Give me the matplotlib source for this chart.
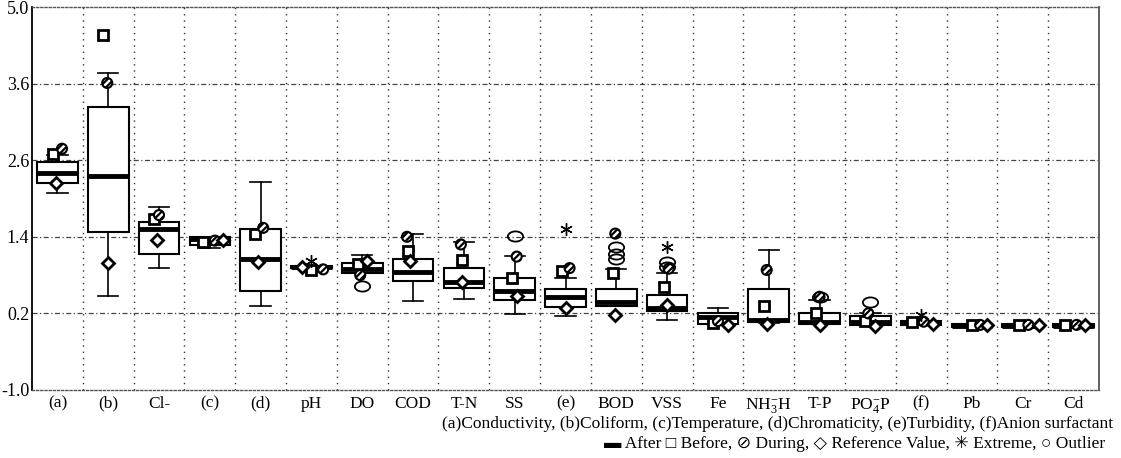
import matplotlib
matplotlib.use("Agg")
import matplotlib.pyplot as plt
import numpy as np
from matplotlib.path import Path
from matplotlib.transforms import Affine2D
from matplotlib.markers import MarkerStyle

plt.rcParams['font.family'] = ['Liberation Serif', 'DejaVu Sans']
plt.rcParams['mathtext.fontset'] = 'custom'
plt.rcParams['mathtext.rm'] = 'Liberation Serif'
plt.rcParams['mathtext.it'] = 'Liberation Serif:italic'
plt.rcParams['mathtext.bf'] = 'Liberation Serif:bold'
plt.rcParams['hatch.linewidth'] = 1.6

# ---------------- data ----------------
categories = ["(a)", "(b)", "Cl-", "(c)", "(d)", "pH", "DO", "COD", "T-N", "SS", "(e)",
              "BOD", "VSS", "Fe", r"NH$_3^{-}$H", "T-P", r"PO$_4^{-}$P", "(f)", "Pb", "Cr", "Cd"]

whislo = [2.09, 0.47, 0.91, 1.22, 0.31, 0.91, 0.84, 0.40, 0.43, 0.19, 0.16,
          0.31, 0.09, 0.04, 0.05, 0.04, 0.02, 0.02, -0.01, -0.01, -0.01]
q1     = [2.24, 1.47, 1.13, 1.27, 0.55, 0.91, 0.84, 0.71, 0.60, 0.41, 0.30,
          0.31, 0.24, 0.04, 0.07, 0.04, 0.02, 0.02, -0.01, -0.01, -0.01]
median = [2.40, 2.35, 1.52, 1.36, 1.05, 0.93, 0.90, 0.85, 0.69, 0.55, 0.46,
          0.38, 0.29, 0.14, 0.09, 0.07, 0.06, 0.05, 0.01, 0.01, 0.01]
q3     = [2.57, 3.43, 1.63, 1.39, 1.52, 0.95, 0.99, 1.06, 0.91, 0.75, 0.58,
          0.59, 0.49, 0.20, 0.59, 0.20, 0.16, 0.08, 0.03, 0.03, 0.03]
whishi = [2.68, 3.97, 1.87, 1.39, 2.26, 0.95, 1.11, 1.45, 1.32, 1.10, 0.75,
          0.89, 0.83, 0.28, 1.19, 0.41, 0.20, 0.08, 0.03, 0.03, 0.03]

before    = [2.70, 4.56, 1.68, 1.32, 1.45, 0.88, 0.97, 1.18, 1.03, 0.76, 0.87,
             0.84, 0.62, 0.05, 0.32, 0.21, 0.08, 0.06, 0.02, 0.02, 0.02]
during    = [2.78, 3.81, 1.74, 1.34, 1.54, 0.89, 0.80, 1.40, 1.28, 1.09, 0.91,
             1.45, 0.90, 0.08, 0.88, 0.46, 0.20, 0.07, 0.02, 0.02, 0.02]
reference = [2.24, 0.99, 1.35, 1.35, 1.01, 0.93, 1.02, 1.02, 0.69, 0.48, 0.28,
             0.18, 0.33, 0.02, 0.04, 0.02, 0.00, 0.04, 0.02, 0.02, 0.02]

extreme_cat = ["pH", "(e)", "VSS", "(f)"]
extreme_val = [1.02, 1.52, 1.24, 0.17]

outlier_cat = ["DO", "SS", "BOD", "BOD", "BOD", "VSS", "VSS", "T-P", r"PO$_4^{-}$P"]
outlier_val = [0.63, 1.41, 1.24, 1.13, 1.06, 1.00, 0.92, 0.46, 0.38]

ytick_vals = [-1.0, 0.2, 1.4, 2.6, 3.8, 5.0]
ytick_labels = ["-1.0", "0.2", "1.4", "2.6", "3.6", "5.0"]

note_line1 = "(a)Conductivity, (b)Coliform, (c)Temperature, (d)Chromaticity, (e)Turbidity, (f)Anion surfactant"
note_line2 = "\u25AC After \u25A1 Before, \u2298 During, \u25C7 Reference Value, \u2733 Extreme, \u25CB Outlier"

# ---------------- layout (marker x offsets within a category) ----------------
off_before = [-0.09, -0.10, -0.10, -0.13, -0.11, 0.00, -0.08, -0.10, -0.04, -0.06, -0.07,
              -0.06, -0.07, -0.09, -0.10, -0.07, -0.10, -0.18, 0.00, -0.08, -0.16]
off_during = [0.09, -0.02, 0.00, 0.10, 0.05, 0.23, -0.04, -0.12, -0.06, 0.04, 0.08,
              -0.02, 0.03, 0.00, -0.04, 0.00, -0.04, 0.05, 0.16, 0.11, 0.06]
off_ref    = [-0.03, 0.00, -0.04, 0.26, -0.05, -0.19, 0.09, -0.06, -0.04, 0.04, 0.00,
              -0.02, 0.00, 0.20, -0.04, 0.00, 0.10, 0.24, 0.29, 0.31, 0.23]

W, H = 1121, 458
fig = plt.figure(figsize=(W / 100, H / 100), dpi=100)
ax = fig.add_axes([32 / W, 1 - 390 / H, (1099 - 32) / W, (390 - 7) / H])

x = np.arange(len(categories))
stats = [dict(whislo=a, q1=b, med=c, q3=d, whishi=e, fliers=[])
         for a, b, c, d, e in zip(whislo, q1, median, q3, whishi)]
ax.bxp(stats, positions=x, widths=0.8, showfliers=False, patch_artist=True,
       boxprops=dict(facecolor='white', edgecolor='black', linewidth=1.5),
       medianprops=dict(color='black', linewidth=3.5, solid_capstyle='butt'),
       whiskerprops=dict(color='black', linewidth=1.2),
       capprops=dict(color='black', linewidth=1.2), capwidths=0.4,
       zorder=3)

# markers
ax.plot(x + np.array(off_before), before, linestyle='none', marker='s', ms=6.5,
        mfc='white', mec='black', mew=2.0, zorder=5)
ax.scatter(x + np.array(off_during), during, marker='o', s=52, facecolor='white',
           edgecolor='black', linewidths=1.5, hatch='/////', zorder=6)
ax.plot(x + np.array(off_ref), reference, linestyle='none', marker='D', ms=6.5,
        mfc='white', mec='black', mew=2.0, zorder=7)

cat_index = {c: i for i, c in enumerate(categories)}
ex_x = [cat_index[c] for c in extreme_cat]
ax.plot(ex_x, extreme_val, linestyle='none', marker=(6, 2, 0), ms=9,
        mec='black', mew=1.0, zorder=6)

ellipse = Path.unit_circle().transformed(Affine2D().scale(1.5, 1.0))
ol_x = [cat_index[c] for c in outlier_cat]
ax.plot(ol_x, outlier_val, linestyle='none', marker=MarkerStyle(ellipse), ms=11,
        mfc='none', mec='black', mew=1.3, zorder=4)

# axes styling
ax.set_xlim(-0.5, len(categories) - 0.5)
ax.set_ylim(-1.0, 5.0)
ax.set_yticks(ytick_vals)
ax.set_yticklabels(ytick_labels, fontsize=13)
ax.set_xticks(x)
ax.set_xticklabels(categories, fontsize=12.5)
ax.tick_params(axis='both', length=0)
ax.tick_params(axis='x', pad=4)
ax.tick_params(axis='y', pad=2)

for v in ytick_vals[1:-1]:
    ax.axhline(v, color='#444444', lw=0.9, linestyle=(0, (4, 2, 1, 2)), zorder=1)
for b in np.arange(0.5, len(categories) - 0.5, 1.0):
    ax.axvline(b, color='#333333', lw=1.0, linestyle=(0, (1, 3.5)), zorder=1)

ax.spines['left'].set_linewidth(1.3)
ax.spines['left'].set_color('black')
ax.spines['right'].set_linewidth(1.3)
ax.spines['right'].set_color('#555555')
for s in ('top', 'bottom'):
    ax.spines[s].set_linestyle((0, (1.5, 1.5)))
    ax.spines[s].set_color('#555555')
    ax.spines[s].set_linewidth(1.0)

fig.text(1113 / W, 1 - 424 / H, note_line1, ha='right', va='center', fontsize=12.5)
fig.text(1105 / W, 1 - 444 / H, note_line2, ha='right', va='center', fontsize=12.5)

fig.savefig("out.png", dpi=100)
